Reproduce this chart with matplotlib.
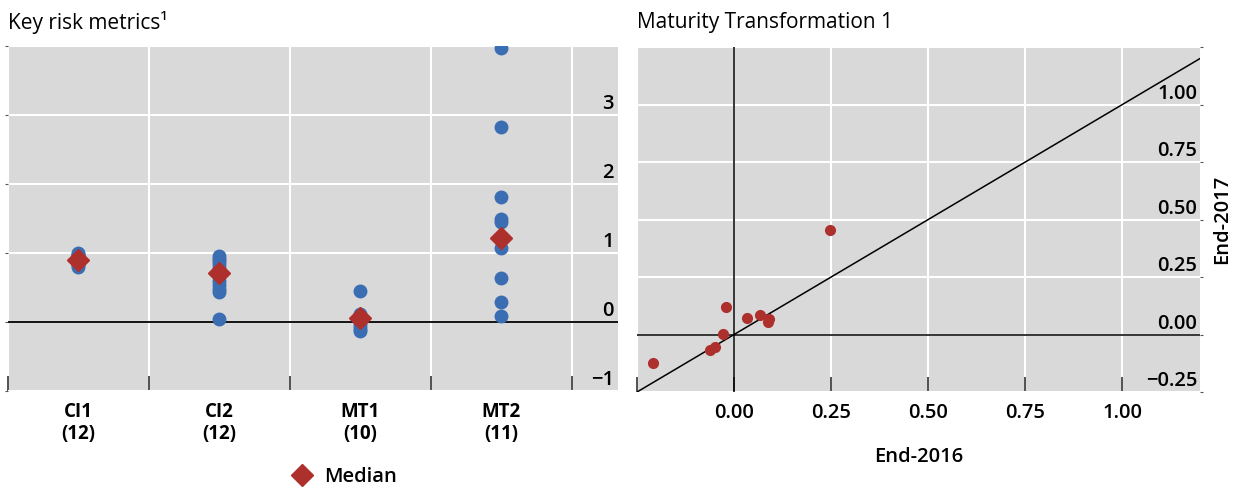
import matplotlib.pyplot as plt
import matplotlib.lines as mlines
import numpy as np

plt.rcParams['font.family'] = ['Open Sans', 'DejaVu Sans']

# left panel data
categories = ['CI1\n(12)', 'CI2\n(12)', 'MT1\n(10)', 'MT2\n(11)']
ci1 = [1.0, 0.99, 0.97, 0.95, 0.93, 0.91, 0.9, 0.88, 0.86, 0.84, 0.82, 0.8]
ci2 = [0.96, 0.92, 0.88, 0.84, 0.78, 0.72, 0.66, 0.6, 0.54, 0.48, 0.43, 0.04]
mt1 = [0.45, 0.12, 0.09, 0.06, 0.04, 0.02, -0.02, -0.06, -0.1, -0.13]
mt2 = [3.97, 2.83, 1.81, 1.5, 1.45, 1.22, 1.22, 1.07, 0.64, 0.29, 0.09]
medians = [0.9, 0.71, 0.06, 1.22]
left_yticks = [-1, 0, 1, 2, 3]

# right panel data
end2016 = [-0.210, -0.062, -0.048, -0.029, -0.022, 0.032, 0.066, 0.087, 0.090, 0.247]
end2017 = [-0.126, -0.069, -0.053, 0.003, 0.121, 0.071, 0.084, 0.056, 0.068, 0.455]
right_xticks = [0.0, 0.25, 0.5, 0.75, 1.0]
right_yticks = [-0.25, 0.0, 0.25, 0.5, 0.75, 1.0]

BG = '#d9d9d9'
BLUE = '#3b6db3'
RED = '#ad302d'

fig = plt.figure(figsize=(12.43, 4.9), dpi=100)

# ---- left: key risk metrics
ax1 = fig.add_axes([0.0064, 0.202, 0.4908, 0.704])
ax1.set_facecolor(BG)
for s in ax1.spines.values():
    s.set_visible(False)

for i, vals in enumerate([ci1, ci2, mt1, mt2]):
    ax1.plot([i] * len(vals), vals, 'o', color=BLUE, markersize=9, zorder=3)
ax1.plot(range(len(medians)), medians, 'D', color=RED, markersize=11, zorder=4)
ax1.axhline(0, color='black', lw=1.3, zorder=2)

ax1.set_xlim(-0.5, 3.83)
ax1.set_ylim(-1, 4)
ax1.set_xticks(np.arange(-0.5, 4, 1))
ax1.set_xticklabels([])
ax1.set_xticks(range(4), minor=True)
ax1.set_xticklabels(categories, minor=True, fontsize=13.5, fontweight='bold',
                    linespacing=1.15)
ax1.tick_params(axis='x', which='major', direction='in', length=11, width=1.2,
                color='#333333')
ax1.tick_params(axis='x', which='minor', length=0, pad=8)
ax1.set_yticks(left_yticks + [4])
ax1.set_yticklabels([])
ax1.tick_params(axis='y', length=2, color='#555555')
ax1.grid(True, color='white', lw=1.5, zorder=0)
ax1.set_axisbelow(True)
for v in left_yticks:
    ax1.annotate(str(v).replace('-', '\u2212'), xy=(1, v),
                 xycoords=('axes fraction', 'data'), xytext=(-3, 0.5),
                 textcoords='offset points', ha='right', va='bottom',
                 fontsize=14.5, fontweight='semibold')

fig.text(0.0064, 0.955, 'Key risk metrics\u00b9', fontsize=15, va='center')

# legend
handle = mlines.Line2D([], [], color=RED, marker='D', linestyle='None',
                       markersize=11, label='Median')
fig.legend(handles=[handle], loc='center', bbox_to_anchor=(0.273, 0.027),
           frameon=False, prop={'size': 14.5, 'weight': 'semibold'},
           handletextpad=0.1)

# ---- right: maturity transformation
ax2 = fig.add_axes([0.5125, 0.200, 0.4529, 0.704])
ax2.set_facecolor(BG)
for s in ax2.spines.values():
    s.set_visible(False)

ax2.set_xlim(-0.25, 1.2)
ax2.set_ylim(-0.25, 1.25)
diag = np.array([-0.25, 1.2])
ax2.plot(diag, diag, color='black', lw=1.1, zorder=2)
ax2.axhline(0, color='black', lw=1.1, zorder=2)
ax2.axvline(0, color='black', lw=1.1, zorder=2)
ax2.plot(end2016, end2017, 'o', color=RED, markersize=7, zorder=3)

ax2.set_xticks([-0.25] + right_xticks)
ax2.set_xticklabels([''] + ['%.2f' % v for v in right_xticks],
                    fontsize=14.5, fontweight='semibold')
ax2.tick_params(axis='x', direction='in', length=11, width=1.2,
                color='#333333', pad=8)
ax2.yaxis.tick_right()
ax2.set_yticks(right_yticks + [1.25])
ax2.set_yticklabels([])
ax2.tick_params(axis='y', length=2, color='#555555')
ax2.grid(True, color='white', lw=1.5, zorder=0)
ax2.set_axisbelow(True)
for v in right_yticks:
    ax2.annotate(('%.2f' % v).replace('-', '\u2212'), xy=(1, v),
                 xycoords=('axes fraction', 'data'), xytext=(-2, 0.5),
                 textcoords='offset points', ha='right', va='bottom',
                 fontsize=14.5, fontweight='semibold')

ax2.set_xlabel('End-2016', fontsize=14.5, fontweight='semibold', labelpad=17)
ax2.yaxis.set_label_position('right')
ax2.set_ylabel('End-2017', fontsize=14.5, fontweight='semibold', labelpad=3)

fig.text(0.5125, 0.955, 'Maturity Transformation 1', fontsize=15, va='center')

fig.savefig('out.png', dpi=100)
